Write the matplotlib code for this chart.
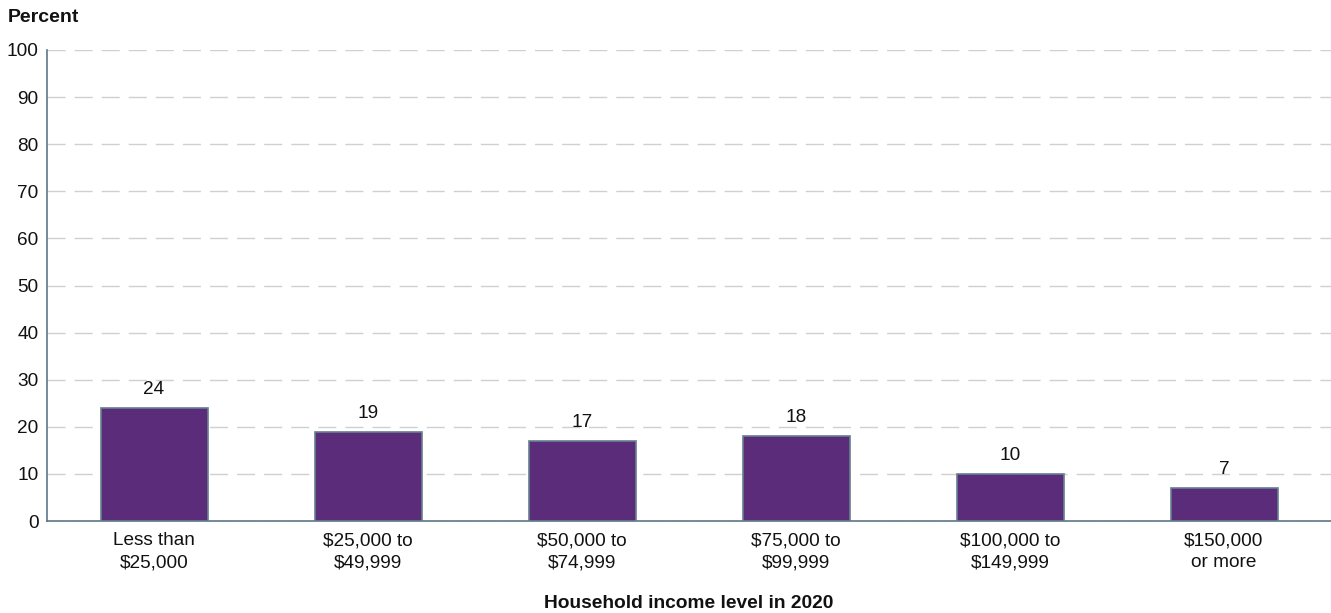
import matplotlib.pyplot as plt

plt.rcParams['font.family'] = ['Liberation Sans', 'DejaVu Sans']

categories = ["Less than\n$25,000", "$25,000 to\n$49,999", "$50,000 to\n$74,999",
              "$75,000 to\n$99,999", "$100,000 to\n$149,999", "$150,000\nor more"]
percent = [24, 19, 17, 18, 10, 7]
y_ticks = [0, 10, 20, 30, 40, 50, 60, 70, 80, 90, 100]

bar_color = "#5b2c7a"
edge_color = "#667f8f"
axis_color = "#5f7687"

fig = plt.figure(figsize=(13.31, 6.13), dpi=100)
ax = fig.add_axes([47 / 1331, 1 - 521 / 613, 1284 / 1331, 471 / 613])

x = list(range(len(categories)))
ax.bar(x, percent, width=0.5, color=bar_color, edgecolor=edge_color, linewidth=1.2, zorder=3)

for xi, v in zip(x, percent):
    ax.annotate(str(v), (xi, v), xytext=(0, 7), textcoords="offset points",
                ha="center", va="bottom", fontsize=13.7, color="#111111")

ax.set_xlim(-0.5, len(categories) - 0.5)
ax.set_ylim(0, 100)
ax.set_yticks(y_ticks)
ax.set_xticks(x)
ax.set_xticklabels(categories, fontsize=13.7, color="#111111", linespacing=1.38)
ax.tick_params(axis="y", length=0, pad=6, labelsize=13.7, labelcolor="#111111")
ax.tick_params(axis="x", length=0, pad=8)

ax.grid(axis="y", color="#d0d0d0", linestyle=(0, (13, 6.5)), linewidth=1, zorder=0)
ax.set_axisbelow(True)

for side in ["top", "right"]:
    ax.spines[side].set_visible(False)
ax.spines["left"].set_color(axis_color)
ax.spines["bottom"].set_color(axis_color)
ax.spines["left"].set_linewidth(1.2)
ax.spines["bottom"].set_linewidth(1.2)

fig.text(8 / 1331, 1 - 18 / 613, "Percent", fontsize=14, fontweight="bold",
         ha="left", va="center", color="#111111")
fig.text(689 / 1331, 1 - 603 / 613, "Household income level in 2020", fontsize=13.8,
         fontweight="bold", ha="center", va="center", color="#111111")

fig.savefig("out.png", dpi=100)
